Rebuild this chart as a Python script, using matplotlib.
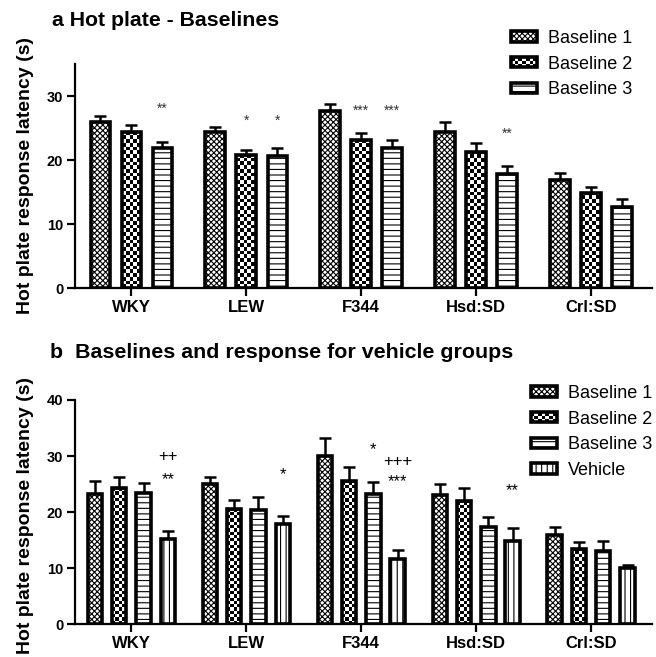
import numpy as np
import matplotlib
matplotlib.use('Agg')
import matplotlib.pyplot as plt
from matplotlib.patches import Rectangle, Patch
from matplotlib.legend_handler import HandlerPatch

plt.rcParams['font.family'] = ['Liberation Sans', 'DejaVu Sans']
plt.rcParams['hatch.linewidth'] = 0.8

strains = ['WKY', 'LEW', 'F344', 'Hsd:SD', 'Crl:SD']

# panel a: three baselines (mean, SEM)
a_base1 = [26.0, 24.3, 27.7, 24.3, 16.8]
a_base1_err = [0.9, 0.9, 1.05, 1.6, 1.1]
a_base2 = [24.4, 20.8, 23.2, 21.2, 14.8]
a_base2_err = [1.0, 0.8, 1.0, 1.5, 1.0]
a_base3 = [21.8, 20.7, 21.9, 17.8, 12.7]
a_base3_err = [1.0, 1.2, 1.2, 1.3, 1.2]
# (strain index, series index, text, y)
a_marks = [(0, 2, '**', 28.6), (1, 1, '*', 26.7), (1, 2, '*', 26.7),
           (2, 1, '***', 28.3), (2, 2, '***', 28.3), (3, 2, '**', 24.8)]

# panel b: baselines + vehicle
b_base1 = [23.3, 25.0, 30.1, 23.1, 15.9]
b_base1_err = [2.3, 1.2, 3.1, 1.9, 1.4]
b_base2 = [24.3, 20.5, 25.6, 21.9, 13.4]
b_base2_err = [2.0, 1.7, 2.4, 2.4, 1.2]
b_base3 = [23.5, 20.4, 23.3, 17.3, 13.0]
b_base3_err = [1.7, 2.3, 2.1, 1.8, 1.8]
b_vehicle = [15.2, 17.9, 11.6, 14.9, 10.1]
b_vehicle_err = [1.5, 1.5, 1.7, 2.2, 0.5]
b_marks = [(0, 3, '++', 30.2), (0, 3, '**', 26.8), (1, 3, '*', 27.6),
           (2, 2, '*', 32.0), (2, 3, '+++', 29.3), (2, 3, '***', 26.4),
           (3, 3, '**', 24.7)]

labels_a = ['Baseline 1', 'Baseline 2', 'Baseline 3']
labels_b = ['Baseline 1', 'Baseline 2', 'Baseline 3', 'Vehicle']

EDGE = 2.6
W, H = 656, 657


def fill_checker(ax, bars, cell_px):
    inv = ax.transData.inverted()
    p0 = inv.transform((0, 0))
    p1 = inv.transform((cell_px, cell_px))
    dx, dy = p1 - p0
    for r in bars:
        x0, w, h = r.get_x(), r.get_width(), r.get_height()
        nc = int(np.ceil(w / dx))
        nr = int(np.ceil(h / dy))
        grid = (np.add.outer(np.arange(nr), np.arange(nc)) % 2).astype(float)
        im = ax.imshow(grid, cmap='gray', vmin=0, vmax=1, origin='lower',
                       extent=(x0, x0 + nc * dx, 0, nr * dy),
                       interpolation='nearest', aspect='auto', zorder=2)
        im.set_clip_path(r)


class CheckerHandler(HandlerPatch):
    def create_artists(self, legend, orig_handle, xdescent, ydescent,
                       width, height, fontsize, trans):
        x0, y0 = -xdescent, -ydescent
        arts = [Rectangle((x0, y0), width, height, facecolor='white', lw=0,
                          transform=trans)]
        nc, nr = 7, 3
        for i in range(nc):
            for j in range(nr):
                if (i + j) % 2 == 0:
                    arts.append(Rectangle((x0 + i * width / nc, y0 + j * height / nr),
                                          width / nc, height / nr, facecolor='black',
                                          lw=0, transform=trans))
        arts.append(Rectangle((x0, y0), width, height, facecolor='none',
                              edgecolor='black', lw=EDGE, transform=trans))
        return arts


def draw_panel(ax, series, errs, hatches, offsets, width, ylim, yticks, marks,
               mark_size, mark_color, cell_px):
    x = np.arange(len(strains))
    ax.set_xlim(-0.49, 4.53)
    ax.set_ylim(*ylim)
    for k, (vals, err, hatch) in enumerate(zip(series, errs, hatches)):
        pos = x + offsets[k]
        bars = ax.bar(pos, vals, width=width, facecolor='white' if hatch != 'checker' else 'none',
                      edgecolor='black', linewidth=EDGE, hatch=None if hatch == 'checker' else hatch,
                      zorder=3)
        if hatch == 'checker':
            fill_checker(ax, bars, cell_px)
        ax.errorbar(pos, vals, yerr=[np.zeros(len(vals)), err], fmt='none', ecolor='black',
                    elinewidth=1.8, capsize=4, capthick=1.8, zorder=2.5)
    for i, k, txt, yv in marks:
        off = -0.36 * mark_size if '+' in txt else -0.58 * mark_size
        ax.annotate(txt, (x[i] + offsets[k], yv), xytext=(0, off), textcoords='offset points',
                    ha='center', va='baseline', fontsize=mark_size, color=mark_color)
    for s in ['top', 'right']:
        ax.spines[s].set_visible(False)
    for s in ['left', 'bottom']:
        ax.spines[s].set_linewidth(1.6)
    ax.set_xticks(x, strains, fontsize=12, fontweight='bold')
    ax.set_yticks(yticks, [str(t) for t in yticks], fontsize=10.5, fontweight='bold')
    ax.tick_params(axis='both', length=5.5, width=1.6, direction='out', pad=3)


fig = plt.figure(figsize=(W / 100, H / 100), dpi=100)

ax1 = fig.add_axes([75 / W, 1 - 288 / H, 577 / W, 224 / H])
draw_panel(ax1, [a_base1, a_base2, a_base3], [a_base1_err, a_base2_err, a_base3_err],
           ['xxxxxx', 'checker', '---'], [-0.27, 0.0, 0.27], 0.17, (0, 35), [0, 10, 20, 30],
           a_marks, 10, '#333333', 3.7)

ax2 = fig.add_axes([75 / W, 1 - 624.3 / H, 577 / W, 224.3 / H])
draw_panel(ax2, [b_base1, b_base2, b_base3, b_vehicle],
           [b_base1_err, b_base2_err, b_base3_err, b_vehicle_err],
           ['xxxxxx', 'checker', '---', '|||'], [-0.317, -0.106, 0.106, 0.317], 0.125, (0, 40),
           [0, 10, 20, 30, 40], b_marks, 12, 'black', 3.3)


def make_legend(ax, labels, hatches, left, top):
    handles = []
    hmap = {}
    for lab, h in zip(labels, hatches):
        if h == 'checker':
            p = Patch(facecolor='white', edgecolor='black', lw=EDGE)
            hmap[p] = CheckerHandler()
        else:
            p = Patch(facecolor='white', edgecolor='black', lw=EDGE, hatch=h)
        handles.append(p)
    ax.legend(handles, labels, handler_map=hmap, loc='upper left',
              bbox_to_anchor=(left / W, 1 - top / H), bbox_transform=fig.transFigure,
              frameon=False, fontsize=13, handlelength=1.45, handleheight=0.5,
              handletextpad=0.6, labelspacing=0.48, borderpad=0, borderaxespad=0)


make_legend(ax1, labels_a, ['xxxxxx', 'checker', '---'], 511, 30)
make_legend(ax2, labels_b, ['xxxxxx', 'checker', '---', '|||'], 530.5, 385)

fig.text(52 / W, 1 - 26 / H, 'a Hot plate - Baselines', fontsize=15.3, fontweight='bold',
         va='baseline', ha='left')
fig.text(50 / W, 1 - 358 / H, 'b  Baselines and response for vehicle groups', fontsize=15.4,
         fontweight='bold', va='baseline', ha='left')
fig.text(26 / W, 1 - 176 / H, 'Hot plate response latency (s)', rotation=90, fontsize=14,
         fontweight='bold', ha='center', va='center')
fig.text(26 / W, 1 - 516 / H, 'Hot plate response latency (s)', rotation=90, fontsize=14,
         fontweight='bold', ha='center', va='center')

fig.savefig('out.png', dpi=100)
